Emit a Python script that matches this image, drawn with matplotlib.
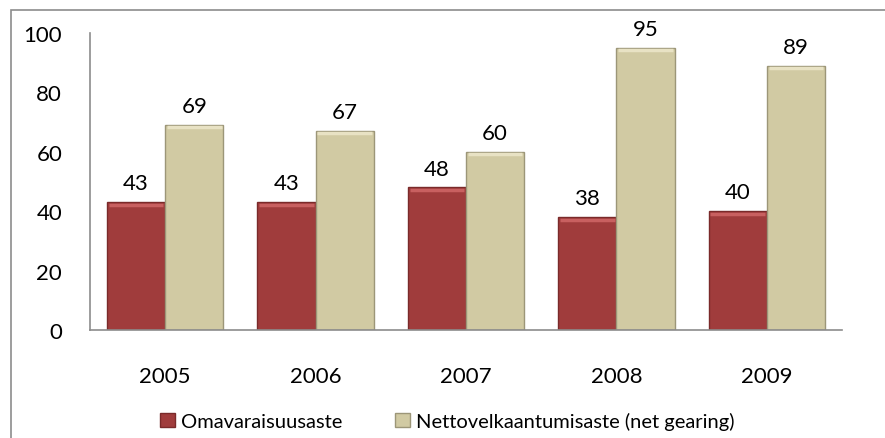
import numpy as np
import matplotlib
matplotlib.use('Agg')
import matplotlib.pyplot as plt
from matplotlib.patches import Rectangle

years = ['2005', '2006', '2007', '2008', '2009']
omavarais = [43, 43, 48, 38, 40]
netto = [69, 67, 60, 95, 89]
labels = ['Omavaraisuusaste', 'Nettovelkaantumisaste (net gearing)']

plt.rcParams['font.family'] = ['Lato', 'DejaVu Sans']

red = '#A03C3C'
red_edge = '#7A2A2A'
beige = '#D1CAA3'
beige_edge = '#9C9678'

fig = plt.figure(figsize=(8.85, 4.39), dpi=100)
# chart frame (only top and left visible, like the cropped original)
fig.add_artist(Rectangle((11 / 885, -0.1), 1.0, (439 - 11) / 439 + 0.1,
                         transform=fig.transFigure, fill=False,
                         edgecolor='#8C8C8C', linewidth=1.2))

ax = fig.add_axes([90 / 885, (439 - 331) / 439, 752 / 885, 297 / 439])
x = np.arange(len(years))
w = 0.387

b1 = ax.bar(x - w / 2, omavarais, w, color=red, edgecolor=red_edge, linewidth=1.0, label=labels[0])
b2 = ax.bar(x + w / 2, netto, w, color=beige, edgecolor=beige_edge, linewidth=1.0, label=labels[1])

# light top highlight to hint the bevel
for bars, hl in ((b1, '#C86060'), (b2, '#E8E2C4')):
    for r in bars:
        ax.plot([r.get_x() + 0.012, r.get_x() + r.get_width() - 0.012],
                [r.get_height() - 0.8] * 2, color=hl, linewidth=2.5, solid_capstyle='butt')

for bars, vals in ((b1, omavarais), (b2, netto)):
    for r, v in zip(bars, vals):
        ax.text(r.get_x() + r.get_width() / 2, v + 3, str(v),
                ha='center', va='bottom', fontsize=16)

ax.set_xlim(-0.5, len(years) - 0.5)
ax.set_ylim(0, 100)
ax.set_yticks(range(0, 101, 20))
ax.set_xticks(x)
ax.set_xticklabels(years)
ax.tick_params(axis='y', length=0, pad=20, labelsize=16)
ax.tick_params(axis='x', length=0, pad=26, labelsize=16)
for lbl in ax.get_yticklabels():
    lbl.set_horizontalalignment('right')
for s in ('top', 'right'):
    ax.spines[s].set_visible(False)
ax.spines['left'].set_color('#8C8C8C')
ax.spines['bottom'].set_color('#8C8C8C')
ax.spines['left'].set_linewidth(1.2)
ax.spines['bottom'].set_linewidth(1.2)

fig.legend(handles=[b1, b2], labels=labels, loc='center', bbox_to_anchor=(447 / 885, 1 - 422 / 439),
           ncol=2, frameon=False, fontsize=14.5, handlelength=0.75, handleheight=0.75,
           handletextpad=0.3, columnspacing=2.6)

fig.savefig('out.png', dpi=100)
